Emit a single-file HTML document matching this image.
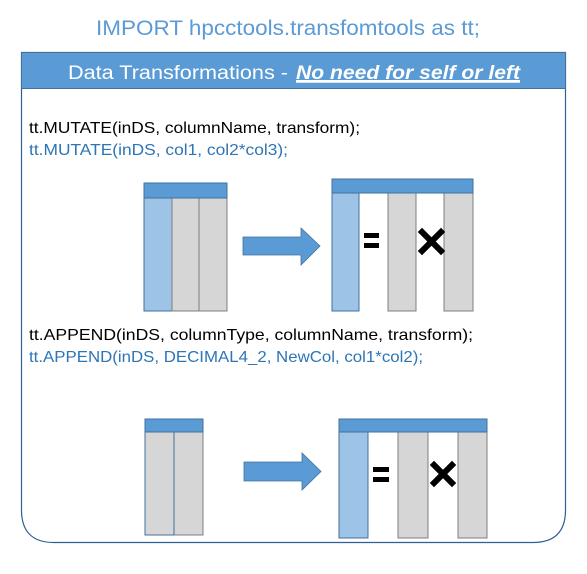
<!DOCTYPE html>
<html><head><meta charset="utf-8"><style>body{margin:0;background:#fff}</style></head><body>
<svg width="587" height="569" viewBox="0 0 587 569" xmlns="http://www.w3.org/2000/svg" font-family="Liberation Sans, sans-serif">
<text x="96" y="35" font-size="21" fill="#5b9bd5" textLength="384" lengthAdjust="spacingAndGlyphs">IMPORT hpcctools.transfomtools as tt;</text>
<path d="M21.5 52.5 H565.5 V510 Q565.5 542.5 533 542.5 H54 Q21.5 542.5 21.5 510 Z" fill="#fff" stroke="#2f5f96" stroke-width="1.2"/>
<rect x="21.5" y="52.5" width="544" height="36" fill="#5b9bd5" stroke="#41719c" stroke-width="1"/>
<text x="68" y="79" font-size="19" fill="#fff" textLength="220" lengthAdjust="spacingAndGlyphs">Data Transformations -</text>
<text x="296" y="79" font-size="19" fill="#fff" font-style="italic" font-weight="bold" text-decoration="underline" textLength="224" lengthAdjust="spacingAndGlyphs">No need for self or left</text>
<line x1="296" y1="82" x2="520" y2="82" stroke="#fff" stroke-width="1.5"/>
<text x="29" y="133" font-size="16" fill="#000" textLength="331" lengthAdjust="spacingAndGlyphs">tt.MUTATE(inDS, columnName, transform);</text>
<text x="29" y="155" font-size="16" fill="#2e75b6" textLength="259" lengthAdjust="spacingAndGlyphs">tt.MUTATE(inDS, col1, col2*col3);</text>
<text x="29" y="340" font-size="16" fill="#000" textLength="444" lengthAdjust="spacingAndGlyphs">tt.APPEND(inDS, columnType, columnName, transform);</text>
<text x="29" y="362" font-size="16" fill="#2e75b6" textLength="394" lengthAdjust="spacingAndGlyphs">tt.APPEND(inDS, DECIMAL4_2, NewCol, col1*col2);</text>
<g stroke="#7f7f7f" stroke-width="1">
<rect x="144" y="198" width="28" height="113" fill="#9dc3e6" stroke="#41719c"/>
<rect x="172" y="198" width="27" height="113" fill="#d6d6d6"/>
<rect x="199" y="198" width="28" height="113" fill="#d6d6d6"/>
<rect x="144" y="183" width="83" height="15" fill="#5b9bd5" stroke="#41719c"/>
<rect x="332" y="193" width="27" height="118" fill="#9dc3e6" stroke="#41719c"/>
<rect x="388" y="193" width="28" height="118" fill="#d6d6d6"/>
<rect x="444" y="193" width="29" height="118" fill="#d6d6d6"/>
<rect x="332" y="179" width="141" height="14" fill="#5b9bd5" stroke="#41719c"/>
<rect x="174" y="432" width="29" height="103" fill="#d6d6d6"/>
<rect x="145" y="432" width="29" height="103" fill="#d6d6d6" stroke="#41719c"/>
<rect x="145" y="419" width="58" height="13" fill="#5b9bd5" stroke="#41719c"/>
<rect x="339" y="432" width="29" height="106" fill="#9dc3e6" stroke="#41719c"/>
<rect x="398" y="432" width="30" height="106" fill="#d6d6d6"/>
<rect x="458" y="432" width="29" height="106" fill="#d6d6d6"/>
<rect x="339" y="419" width="148" height="13" fill="#5b9bd5" stroke="#41719c"/>
</g>
<path d="M243 237 H301 V228 L320 246 L301 265 V255 H243 Z" fill="#5b9bd5" stroke="#41719c" stroke-width="0.8"/>
<path d="M244 462 H302 V453 L321 471.5 L302 490 V481 H244 Z" fill="#5b9bd5" stroke="#41719c" stroke-width="0.8"/>
<rect x="364" y="233" width="15" height="5" fill="#000"/><rect x="364" y="243" width="15" height="5" fill="#000"/>
<path d="M422 232 L441 251 M441 232 L422 251" stroke="#000" stroke-width="6" stroke-linecap="square"/>
<rect x="373" y="467" width="16" height="5" fill="#000"/><rect x="373" y="477" width="16" height="5" fill="#000"/>
<path d="M434 465 L452 483 M452 465 L434 483" stroke="#000" stroke-width="6" stroke-linecap="square"/>
</svg>
</body></html>
